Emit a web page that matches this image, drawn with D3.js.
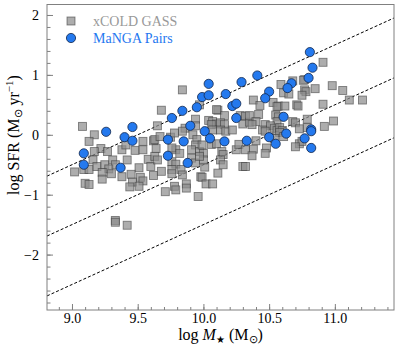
<!DOCTYPE html>
<html>
<head>
<meta charset="utf-8">
<script src="https://cdn.jsdelivr.net/npm/d3@7"></script>
<style>
  body { margin: 0; background: #fff; }
  text { font-family: "Liberation Serif", "Times New Roman", serif; }
</style>
</head>
<body>
<div id="chart"></div>
<script>
const width = 399;
const height = 351;

// xCOLD GASS galaxies (log M*, log SFR)
const xcgMass = [9.08, 9.17, 9.13, 9.22, 9.17, 9.27, 9.38, 9.41, 9.48, 9.54, 9.62, 9.64, 9.02, 9.09, 9.13, 9.16, 9.19, 9.25,
  9.31, 9.33, 9.28, 9.23, 9.30, 9.38, 9.23, 9.42, 9.51, 9.45, 9.52, 9.54, 9.46, 9.10, 9.13, 9.44, 9.51, 9.58, 9.63, 9.60,
  9.62, 9.33, 9.33, 9.42, 9.54, 9.75, 9.65,
  9.84, 9.68, 10.11, 10.16, 9.94, 10.04, 10.07, 10.10, 10.13, 10.06, 9.86, 9.84, 9.94, 10.16, 10.07, 10.13, 10.17, 10.28,
  10.32, 10.22, 10.30, 10.35, 9.63, 9.67, 9.78, 9.79, 9.76, 9.92, 9.95, 9.94, 9.91, 9.97, 10.00, 10.06, 10.10, 9.99, 10.14,
  10.15, 10.25, 10.27, 10.32, 9.65, 9.76, 9.79, 10.01, 9.68, 9.83, 9.98, 9.84, 9.91, 9.94, 10.00, 10.13, 9.76, 9.76, 9.71,
  9.78, 9.79, 9.87, 9.87, 9.99, 10.02, 10.07, 10.11, 9.96, 10.15, 10.30, 10.32, 9.97, 10.10, 9.97, 9.82,
  10.91, 10.98, 11.06, 10.85, 10.77, 10.76, 10.77, 10.78, 10.75, 10.59, 10.68, 10.61, 10.65, 10.53, 10.57, 10.56, 10.62,
  10.71, 10.72, 10.38, 10.43, 10.91, 11.11, 11.21, 10.42, 10.35, 10.55, 10.57, 10.56, 10.68, 10.70, 10.79, 10.73, 10.79,
  10.92, 10.99, 10.40, 10.37, 10.47, 10.51, 10.45, 10.47, 10.54, 10.56, 10.58, 10.60, 10.58, 10.61, 10.40, 10.54, 10.73,
  10.75, 10.48, 10.47, 10.38, 10.37, 10.70];
const xcgSfr = [0.14, 0.00, -0.11, -0.23, -0.28, -0.28, -0.25, -0.17, -0.26, -0.25, -0.10, -0.23, -0.62, -0.58, -0.58, -0.42, -0.53, -0.50,
  -0.42, -0.50, -0.57, -0.63, -0.65, -0.70, -0.74, -0.42, -0.55, -0.66, -0.71, -0.77, -0.79, -0.81, -0.83, -0.87, -0.86, -0.41, -0.36, -0.53,
  -0.68, -1.43, -1.46, -1.51, -0.11, -0.04, 0.15,
  0.75, 0.41, 0.41, 0.32, 0.26, 0.24, 0.22, 0.18, 0.20, 0.17, 0.11, 0.06, 0.15, 0.17, 0.08, 0.08, 0.06, 0.32,
  0.31, 0.08, 0.18, 0.21, -0.08, -0.03, 0.03, -0.25, -0.22, 0.00, -0.08, -0.17, -0.25, -0.28, -0.31, -0.16, -0.15, -0.17, -0.28,
  -0.33, -0.25, -0.16, -0.25, -0.42, -0.45, -0.49, -0.54, -0.61, -0.58, -0.70, -0.67, -0.39, -0.47, -0.42, -0.42, -0.58, -0.65, -0.95,
  -0.86, -0.92, -0.82, -0.89, -0.71, -0.82, -0.82, -0.64, -1.03, -0.50, -0.53, -0.53, 0.50, 0.42, -0.36, -0.31,
  1.21, 0.82, 0.74, 0.77, 0.92, 0.91, 0.75, 0.72, 0.66, 0.84, 0.90, 0.70, 0.68, 0.54, 0.48, 0.47, 0.48,
  0.50, 0.48, 0.58, 0.49, 0.51, 0.58, 0.58, 0.34, 0.32, 0.33, 0.30, 0.22, 0.22, 0.20, 0.26, 0.10, 0.12,
  0.14, 0.23, 0.22, 0.17, 0.17, 0.15, 0.08, 0.06, 0.11, 0.07, 0.12, 0.07, 0.04, -0.03, -0.10, -0.06, -0.15,
  -0.11, -0.22, -0.31, -0.24, -0.35, -0.20];

// MaNGA pairs (log M*, log SFR)
const pairMass = [9.09, 9.09, 9.26, 9.46, 9.40, 9.46, 9.37, 9.73, 9.73, 9.76, 9.84, 9.85, 9.90, 9.88, 9.95, 9.99, 10.04,
  10.04, 10.17, 10.22, 10.25, 10.25, 10.01, 10.05, 10.16, 10.33, 10.29, 10.41, 10.81, 10.83, 10.80, 10.67, 10.64, 10.50,
  10.47, 10.61, 10.63, 10.50, 10.55, 10.82, 10.82, 10.77, 10.82];
const pairSfr = [-0.31, -0.50, 0.05, 0.13, -0.04, -0.10, -0.55, -0.08, -0.35, 0.28, 0.40, -0.11, 0.15, -0.47, 0.46, 0.63, 0.85,
  0.66, 0.68, 0.48, 0.52, 0.28, 0.06, -0.06, -0.11, -0.10, 0.88, 0.99, 1.38, 1.12, 0.95, 0.86, 0.78, 0.72,
  0.61, 0.30, 0.02, -0.04, -0.15, 0.09, 0.06, -0.06, -0.22];

// constant specific SFR lines (log sSFR)
const ssfrLevels = [-9.5, -10.5, -11.5];

const xTicks = [9.0, 9.5, 10.0, 10.5, 11.0];
const yTicks = [-2, -1, 0, 1, 2];

const pLeft = 47, pRight = 394, pTop = 4.5, pBottom = 310;

const x = d3.scaleLinear().domain([8.81, 11.45]).range([pLeft, pRight]);
const y = d3.scaleLinear().domain([-2.925, 2.175]).range([pBottom, pTop]);

const svg = d3.select("#chart")
  .append("svg")
  .attr("width", width)
  .attr("height", height);

svg.append("defs").append("clipPath")
  .attr("id", "clip")
  .append("rect")
  .attr("x", pLeft).attr("y", pTop)
  .attr("width", pRight - pLeft).attr("height", pBottom - pTop);

const plot = svg.append("g").attr("clip-path", "url(#clip)");

// dashed sSFR lines
plot.selectAll(".ssfr")
  .data(ssfrLevels)
  .join("line")
  .attr("x1", x(8.81)).attr("x2", x(11.45))
  .attr("y1", d => y(8.81 + d)).attr("y2", d => y(11.45 + d))
  .attr("stroke", "#000")
  .attr("stroke-width", 1)
  .attr("stroke-dasharray", "3,2");

const sq = 8;
plot.selectAll(".xcg")
  .data(xcgMass.map((m, i) => [m, xcgSfr[i]]))
  .join("rect")
  .attr("x", d => x(d[0]) - sq / 2)
  .attr("y", d => y(d[1]) - sq / 2)
  .attr("width", sq).attr("height", sq)
  .attr("fill", "#8e8e8e")
  .attr("fill-opacity", 0.72)
  .attr("stroke", "#3a3a3a")
  .attr("stroke-opacity", 0.6)
  .attr("stroke-width", 0.9);

plot.selectAll(".pair")
  .data(pairMass.map((m, i) => [m, pairSfr[i]]))
  .join("circle")
  .attr("cx", d => x(d[0]))
  .attr("cy", d => y(d[1]))
  .attr("r", 4.6)
  .attr("fill", "#2479ee")
  .attr("stroke", "#12264a")
  .attr("stroke-width", 0.8);

// axes: major and minor ticks pointing inward
const axisCol = "#808080";
function styleAxis(g) {
  g.select(".domain").remove();
  g.selectAll(".tick line").attr("stroke", axisCol);
  g.selectAll(".tick text")
    .attr("fill", "#000")
    .style("font-family", '"Liberation Serif", "Times New Roman", serif')
    .style("font-size", "14px");
}

svg.append("g")
  .attr("transform", `translate(0,${pBottom})`)
  .call(d3.axisBottom(x).tickValues(d3.range(8.9, 11.45, 0.1)).tickSize(-3).tickFormat(""))
  .call(styleAxis);

svg.append("g")
  .attr("transform", `translate(0,${pBottom})`)
  .call(d3.axisBottom(x).tickValues(xTicks).tickSize(-6).tickPadding(3).tickFormat(d3.format(".1f")))
  .call(styleAxis);

svg.append("g")
  .attr("transform", `translate(${pLeft},0)`)
  .call(d3.axisLeft(y).tickValues(d3.range(-2.8, 2.1, 0.2)).tickSize(-3.5).tickFormat(""))
  .call(styleAxis);

svg.append("g")
  .attr("transform", `translate(${pLeft},0)`)
  .call(d3.axisLeft(y).tickValues(yTicks).tickSize(-6).tickPadding(8).tickFormat(d => d < 0 ? "\u2212" + (-d) : d))
  .call(styleAxis);

svg.append("rect")
  .attr("x", pLeft).attr("y", pTop)
  .attr("width", pRight - pLeft).attr("height", pBottom - pTop)
  .attr("fill", "none")
  .attr("stroke", axisCol)
  .attr("stroke-width", 1);

// axis labels
const xl = svg.append("text")
  .attr("x", (pLeft + pRight) / 2)
  .attr("y", 340)
  .attr("text-anchor", "middle")
  .style("font-size", "16px");
xl.append("tspan").text("log ");
xl.append("tspan").attr("font-style", "italic").text("M");
xl.append("tspan").attr("font-size", "10px").attr("dy", 3).text("\u2605");
xl.append("tspan").attr("dy", -3).text(" (M");
xl.append("tspan").attr("font-size", "11px").attr("dy", 3).text("\u2299");
xl.append("tspan").attr("dy", -3).text(")");

const yl = svg.append("text")
  .attr("transform", "translate(19,135) rotate(-90)")
  .attr("text-anchor", "middle")
  .style("font-size", "16px");
yl.append("tspan").text("log SFR (M");
yl.append("tspan").attr("font-size", "11px").attr("dy", 3).text("\u2299");
yl.append("tspan").attr("dy", -3).text(" yr");
yl.append("tspan").attr("font-size", "11px").attr("dy", -6).text("\u22121");
yl.append("tspan").attr("dy", 6).text(")");

// legend
const legend = svg.append("g");
legend.append("rect")
  .attr("x", 71 - sq / 2).attr("y", 21 - sq / 2)
  .attr("width", sq).attr("height", sq)
  .attr("fill", "#8e8e8e").attr("fill-opacity", 0.72)
  .attr("stroke", "#3a3a3a").attr("stroke-opacity", 0.6).attr("stroke-width", 0.9);
legend.append("text")
  .attr("x", 93).attr("y", 25.5)
  .attr("fill", "#999")
  .style("font-size", "14px")
  .text("xCOLD GASS");
legend.append("circle")
  .attr("cx", 71).attr("cy", 38).attr("r", 4.6)
  .attr("fill", "#2479ee").attr("stroke", "#12264a").attr("stroke-width", 0.8);
legend.append("text")
  .attr("x", 93).attr("y", 42.5)
  .attr("fill", "#1f78f0")
  .style("font-size", "14px")
  .text("MaNGA Pairs");
</script>
</body>
</html>
